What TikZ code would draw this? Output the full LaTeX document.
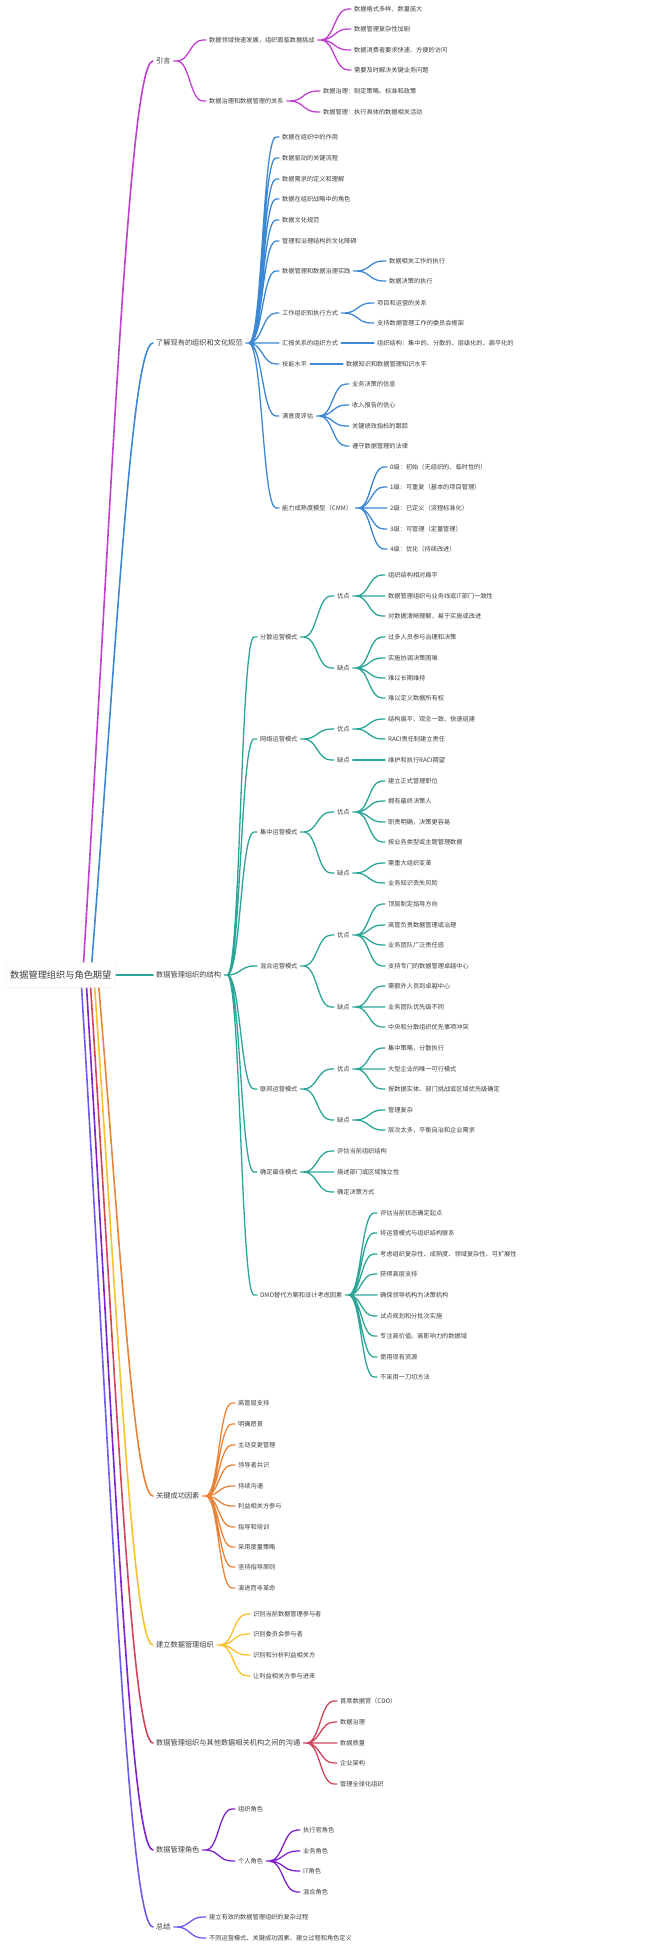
\documentclass[tikz,border=0pt]{standalone}
\usepackage{fontspec}
\setmainfont{Noto Sans CJK SC}
\usetikzlibrary{calc,backgrounds}

\definecolor{cIntro}{HTML}{C03FD0}
\definecolor{cCult}{HTML}{3C88D4}
\definecolor{cStruct}{HTML}{2AA596}
\definecolor{cFactor}{HTML}{E8843A}
\definecolor{cBuild}{HTML}{F5C12E}
\definecolor{cComm}{HTML}{D0445C}
\definecolor{cRoles}{HTML}{7E22CE}
\definecolor{cSum}{HTML}{6B5CF0}
\definecolor{txt}{HTML}{3D3D3D}

\begin{document}
\begin{tikzpicture}[
    x=1pt, y=-1pt,
    root/.style={anchor=west, font=\fontsize{9.2}{11}\selectfont, text=txt, fill=white, draw=black!7, rounded corners=2pt, inner xsep=4pt, inner ysep=8pt},
    topic/.style={anchor=west, font=\fontsize{7.2}{9}\selectfont, text=txt, inner xsep=3pt, inner ysep=1pt},
    leaf/.style={anchor=west, font=\fontsize{6.2}{7.5}\selectfont, text=txt, inner xsep=3pt, inner ysep=1pt},
    link/.style={line width=1.3pt, line cap=round, to path={let \p1=(\tikztostart), \p2=(\tikztotarget) in
        -- ({\x1+3pt},\y1) .. controls ({(\x1+\x2)/2},\y1) and ({(\x1+\x2)/2},\y2) .. ({\x2-3pt},\y2) -- (\p2)}},
    rootlink/.style={line width=1.6pt, line cap=round, to path={let \p1=(\tikztostart), \p2=(\tikztotarget) in
        .. controls ({\x1+0.4*(\x2-\x1)},{\y1+0.5*(\y2-\y1)}) and ({\x1+0.65*(\x2-\x1)},\y2) .. (\p2)}}
]
\useasboundingbox (0,0) rectangle (650,1947);

% Root
\node[root] (root) at (6,975) {数据管理组织与角色期望};

% Intro
\node[topic] (intro) at (153,61) {引言};
\node[leaf] (introA) at (206,40) {数据领域快速发展，组织面临数据挑战};
\node[leaf] (introA1) at (351,9) {数据格式多样、数量庞大};
\node[leaf] (introA2) at (351,29) {数据管理复杂性加剧};
\node[leaf] (introA3) at (351,50) {数据消费者要求快速、方便的访问};
\node[leaf] (introA4) at (351,70) {需要及时解决关键业务问题};
\node[leaf] (introB) at (206,101) {数据治理和数据管理的关系};
\node[leaf] (introB1) at (320,91) {数据治理：制定策略、标准和政策};
\node[leaf] (introB2) at (320,112) {数据管理：执行具体的数据相关活动};

\draw[link, cIntro] (intro.east) to (introA.west) (intro.east) to (introB.west);
\draw[link, cIntro] (introA.east) to (introA1.west) (introA.east) to (introA2.west)
    (introA.east) to (introA3.west) (introA.east) to (introA4.west);
\draw[link, cIntro] (introB.east) to (introB1.west) (introB.east) to (introB2.west);

% Culture
\node[topic] (cult) at (153,343) {了解现有的组织和文化规范};
\node[leaf] (cult1) at (279,137) {数据在组织中的作用};
\node[leaf] (cult2) at (279,158) {数据驱动的关键流程};
\node[leaf] (cult3) at (279,179) {数据需求的定义和理解};
\node[leaf] (cult4) at (279,199) {数据在组织战略中的角色};
\node[leaf] (cult5) at (279,220) {数据文化规范};
\node[leaf] (cult6) at (279,241) {管理和治理结构的文化障碍};
\node[leaf] (cultP) at (279,271) {数据管理和数据治理实践};
\node[leaf] (cultP1) at (386,261) {数据相关工作的执行};
\node[leaf] (cultP2) at (386,281) {数据决策的执行};
\node[leaf] (cultW) at (279,313) {工作组织和执行方式};
\node[leaf] (cultW1) at (374,303) {项目和运营的关系};
\node[leaf] (cultW2) at (374,323) {支持数据管理工作的委员会框架};
\node[leaf] (cultR) at (279,343) {汇报关系的组织方式};
\node[leaf] (cultR1) at (374,343) {组织结构：集中的、分散的、层级化的、扁平化的};
\node[leaf] (cultS) at (279,364) {技能水平};
\node[leaf] (cultS1) at (343,364) {数据知识和数据管理知识水平};
\node[leaf] (cultE) at (279,416) {满意度评估};
\node[leaf] (cultE1) at (349,384) {业务决策的信息};
\node[leaf] (cultE2) at (349,405) {收入报告的信心};
\node[leaf] (cultE3) at (349,426) {关键绩效指标的跟踪};
\node[leaf] (cultE4) at (349,446) {遵守数据管理的法律};
\node[leaf] (cultM) at (279,508) {能力成熟度模型（CMM）};
\node[leaf] (cultM0) at (387,467) {0级：初始（无组织的、临时性的）};
\node[leaf] (cultM1) at (387,487) {1级：可重复（基本的项目管理）};
\node[leaf] (cultM2) at (387,508) {2级：已定义（流程标准化）};
\node[leaf] (cultM3) at (387,529) {3级：可管理（定量管理）};
\node[leaf] (cultM4) at (387,549) {4级：优化（持续改进）};

\draw[link, cCult] (cult.east) to (cult1.west) (cult.east) to (cult2.west) (cult.east) to (cult3.west)
    (cult.east) to (cult4.west) (cult.east) to (cult5.west) (cult.east) to (cult6.west)
    (cult.east) to (cultP.west) (cult.east) to (cultW.west) (cult.east) to (cultR.west)
    (cult.east) to (cultS.west) (cult.east) to (cultE.west) (cult.east) to (cultM.west);
\draw[link, cCult] (cultP.east) to (cultP1.west) (cultP.east) to (cultP2.west);
\draw[link, cCult] (cultW.east) to (cultW1.west) (cultW.east) to (cultW2.west);
\draw[link, cCult] (cultR.east) to (cultR1.west);
\draw[link, cCult] (cultS.east) to (cultS1.west);
\draw[link, cCult] (cultE.east) to (cultE1.west) (cultE.east) to (cultE2.west)
    (cultE.east) to (cultE3.west) (cultE.east) to (cultE4.west);
\draw[link, cCult] (cultM.east) to (cultM0.west) (cultM.east) to (cultM1.west) (cultM.east) to (cultM2.west)
    (cultM.east) to (cultM3.west) (cultM.east) to (cultM4.west);

% Structure
\node[topic] (struct) at (153,975) {数据管理组织的结构};

\node[leaf] (dec) at (257,637) {分散运营模式};
\node[leaf] (decP) at (334,596) {优点};
\node[leaf] (decP1) at (385,575) {组织结构相对扁平};
\node[leaf] (decP2) at (385,596) {数据管理组织与业务线或IT部门一致性};
\node[leaf] (decP3) at (385,616) {对数据清晰理解，易于实施或改进};
\node[leaf] (decC) at (334,668) {缺点};
\node[leaf] (decC1) at (385,637) {过多人员参与治理和决策};
\node[leaf] (decC2) at (385,658) {实施协调决策困难};
\node[leaf] (decC3) at (385,678) {难以长期维持};
\node[leaf] (decC4) at (385,698) {难以定义数据所有权};

\node[leaf] (net) at (257,739) {网络运营模式};
\node[leaf] (netP) at (334,729) {优点};
\node[leaf] (netP1) at (385,719) {结构扁平、观念一致、快速组建};
\node[leaf] (netP2) at (385,739) {RACI责任制建立责任};
\node[leaf] (netC) at (334,760) {缺点};
\node[leaf] (netC1) at (385,760) {维护和执行RACI期望};

\node[leaf] (cen) at (257,832) {集中运营模式};
\node[leaf] (cenP) at (334,812) {优点};
\node[leaf] (cenP1) at (385,781) {建立正式管理职位};
\node[leaf] (cenP2) at (385,801) {拥有最终决策人};
\node[leaf] (cenP3) at (385,822) {职责明确，决策更容易};
\node[leaf] (cenP4) at (385,842) {按业务类型或主题管理数据};
\node[leaf] (cenC) at (334,873) {缺点};
\node[leaf] (cenC1) at (385,863) {需重大组织变革};
\node[leaf] (cenC2) at (385,883) {业务知识丢失风险};

\node[leaf] (hyb) at (257,966) {混合运营模式};
\node[leaf] (hybP) at (334,935) {优点};
\node[leaf] (hybP1) at (385,904) {顶层制定指导方向};
\node[leaf] (hybP2) at (385,925) {高管负责数据管理或治理};
\node[leaf] (hybP3) at (385,945) {业务团队广泛责任感};
\node[leaf] (hybP4) at (385,966) {支持专门的数据管理卓越中心};
\node[leaf] (hybC) at (334,1007) {缺点};
\node[leaf] (hybC1) at (385,986) {需额外人员到卓越中心};
\node[leaf] (hybC2) at (385,1007) {业务团队优先级不同};
\node[leaf] (hybC3) at (385,1027) {中央和分散组织优先事项冲突};

\node[leaf] (fed) at (257,1089) {联邦运营模式};
\node[leaf] (fedP) at (334,1069) {优点};
\node[leaf] (fedP1) at (385,1048) {集中策略，分散执行};
\node[leaf] (fedP2) at (385,1069) {大型企业的唯一可行模式};
\node[leaf] (fedP3) at (385,1089) {按数据实体、部门挑战或区域优先级确定};
\node[leaf] (fedC) at (334,1120) {缺点};
\node[leaf] (fedC1) at (385,1110) {管理复杂};
\node[leaf] (fedC2) at (385,1130) {层次太多，平衡自治和企业需求};

\node[leaf] (best) at (257,1172) {确定最佳模式};
\node[leaf] (best1) at (334,1151) {评估当前组织结构};
\node[leaf] (best2) at (334,1172) {描述部门或区域独立性};
\node[leaf] (best3) at (334,1192) {确定决策方式};

\node[leaf] (dmo) at (257,1295) {DMO替代方案和设计考虑因素};
\node[leaf] (dmo1) at (377,1213) {评估当前状态确定起点};
\node[leaf] (dmo2) at (377,1233) {将运营模式与组织结构联系};
\node[leaf] (dmo3) at (377,1254) {考虑组织复杂性、成熟度、领域复杂性、可扩展性};
\node[leaf] (dmo4) at (377,1274) {获得高层支持};
\node[leaf] (dmo5) at (377,1295) {确保领导机构为决策机构};
\node[leaf] (dmo6) at (377,1316) {试点规划和分批次实施};
\node[leaf] (dmo7) at (377,1336) {专注高价值、高影响力的数据域};
\node[leaf] (dmo8) at (377,1357) {使用现有资源};
\node[leaf] (dmo9) at (377,1377) {不采用一刀切方法};

\draw[link, cStruct] (struct.east) to (dec.west) (struct.east) to (net.west) (struct.east) to (cen.west)
    (struct.east) to (hyb.west) (struct.east) to (fed.west) (struct.east) to (best.west) (struct.east) to (dmo.west);
\draw[link, cStruct] (dec.east) to (decP.west) (dec.east) to (decC.west);
\draw[link, cStruct] (decP.east) to (decP1.west) (decP.east) to (decP2.west) (decP.east) to (decP3.west);
\draw[link, cStruct] (decC.east) to (decC1.west) (decC.east) to (decC2.west) (decC.east) to (decC3.west) (decC.east) to (decC4.west);
\draw[link, cStruct] (net.east) to (netP.west) (net.east) to (netC.west);
\draw[link, cStruct] (netP.east) to (netP1.west) (netP.east) to (netP2.west);
\draw[link, cStruct] (netC.east) to (netC1.west);
\draw[link, cStruct] (cen.east) to (cenP.west) (cen.east) to (cenC.west);
\draw[link, cStruct] (cenP.east) to (cenP1.west) (cenP.east) to (cenP2.west) (cenP.east) to (cenP3.west) (cenP.east) to (cenP4.west);
\draw[link, cStruct] (cenC.east) to (cenC1.west) (cenC.east) to (cenC2.west);
\draw[link, cStruct] (hyb.east) to (hybP.west) (hyb.east) to (hybC.west);
\draw[link, cStruct] (hybP.east) to (hybP1.west) (hybP.east) to (hybP2.west) (hybP.east) to (hybP3.west) (hybP.east) to (hybP4.west);
\draw[link, cStruct] (hybC.east) to (hybC1.west) (hybC.east) to (hybC2.west) (hybC.east) to (hybC3.west);
\draw[link, cStruct] (fed.east) to (fedP.west) (fed.east) to (fedC.west);
\draw[link, cStruct] (fedP.east) to (fedP1.west) (fedP.east) to (fedP2.west) (fedP.east) to (fedP3.west);
\draw[link, cStruct] (fedC.east) to (fedC1.west) (fedC.east) to (fedC2.west);
\draw[link, cStruct] (best.east) to (best1.west) (best.east) to (best2.west) (best.east) to (best3.west);
\draw[link, cStruct] (dmo.east) to (dmo1.west) (dmo.east) to (dmo2.west) (dmo.east) to (dmo3.west)
    (dmo.east) to (dmo4.west) (dmo.east) to (dmo5.west) (dmo.east) to (dmo6.west)
    (dmo.east) to (dmo7.west) (dmo.east) to (dmo8.west) (dmo.east) to (dmo9.west);

% Key success factors
\node[topic] (factor) at (153,1496) {关键成功因素};
\node[leaf] (fac1) at (235,1403) {高管层支持};
\node[leaf] (fac2) at (235,1424) {明确愿景};
\node[leaf] (fac3) at (235,1445) {主动变更管理};
\node[leaf] (fac4) at (235,1465) {领导者共识};
\node[leaf] (fac5) at (235,1486) {持续沟通};
\node[leaf] (fac6) at (235,1506) {利益相关方参与};
\node[leaf] (fac7) at (235,1527) {指导和培训};
\node[leaf] (fac8) at (235,1547) {采用度量策略};
\node[leaf] (fac9) at (235,1567) {坚持指导原则};
\node[leaf] (fac10) at (235,1588) {演进而非革命};

\draw[link, cFactor] (factor.east) to (fac1.west) (factor.east) to (fac2.west) (factor.east) to (fac3.west)
    (factor.east) to (fac4.west) (factor.east) to (fac5.west) (factor.east) to (fac6.west)
    (factor.east) to (fac7.west) (factor.east) to (fac8.west) (factor.east) to (fac9.west) (factor.east) to (fac10.west);

% Build
\node[topic] (build) at (153,1645) {建立数据管理组织};
\node[leaf] (bld1) at (250,1614) {识别当前数据管理参与者};
\node[leaf] (bld2) at (250,1634) {识别委员会参与者};
\node[leaf] (bld3) at (250,1655) {识别和分析利益相关方};
\node[leaf] (bld4) at (250,1676) {让利益相关方参与进来};

\draw[link, cBuild] (build.east) to (bld1.west) (build.east) to (bld2.west)
    (build.east) to (bld3.west) (build.east) to (bld4.west);

% Communication
\node[topic] (comm) at (153,1743) {数据管理组织与其他数据相关机构之间的沟通};
\node[leaf] (com1) at (337,1701) {首席数据官（CDO）};
\node[leaf] (com2) at (337,1722) {数据治理};
\node[leaf] (com3) at (337,1743) {数据质量};
\node[leaf] (com4) at (337,1763) {企业架构};
\node[leaf] (com5) at (337,1784) {管理全球化组织};

\draw[link, cComm] (comm.east) to (com1.west) (comm.east) to (com2.west) (comm.east) to (com3.west)
    (comm.east) to (com4.west) (comm.east) to (com5.west);

% Roles
\node[topic] (roles) at (153,1850) {数据管理角色};
\node[leaf] (rol1) at (235,1809) {组织角色};
\node[leaf] (rol2) at (235,1861) {个人角色};
\node[leaf] (rol21) at (300,1830) {执行官角色};
\node[leaf] (rol22) at (300,1851) {业务角色};
\node[leaf] (rol23) at (300,1871) {IT角色};
\node[leaf] (rol24) at (300,1892) {混合角色};

\draw[link, cRoles] (roles.east) to (rol1.west) (roles.east) to (rol2.west);
\draw[link, cRoles] (rol2.east) to (rol21.west) (rol2.east) to (rol22.west)
    (rol2.east) to (rol23.west) (rol2.east) to (rol24.west);

% Summary
\node[topic] (summary) at (153,1927) {总结};
\node[leaf] (sum1) at (206,1917) {建立有效的数据管理组织的复杂过程};
\node[leaf] (sum2) at (206,1938) {不同运营模式、关键成功因素、建立过程和角色定义};

\draw[link, cSum] (summary.east) to (sum1.west) (summary.east) to (sum2.west);

% Root branches
\begin{scope}[on background layer]
\draw[rootlink, cIntro] ($(root.center)+(22,0)$) to (intro.west);
\draw[rootlink, cCult] ($(root.center)+(30,0)$) to (cult.west);
\draw[rootlink, cStruct] ($(root.center)+(30,0)$) to (struct.west);
\draw[rootlink, cFactor] ($(root.center)+(37,0)$) to (factor.west);
\draw[rootlink, cBuild] ($(root.center)+(33,0)$) to (build.west);
\draw[rootlink, cComm] ($(root.center)+(29,0)$) to (comm.west);
\draw[rootlink, cRoles] ($(root.center)+(25,0)$) to (roles.west);
\draw[rootlink, cSum] ($(root.center)+(20,0)$) to (summary.west);
\end{scope}

\end{tikzpicture}
\end{document}
